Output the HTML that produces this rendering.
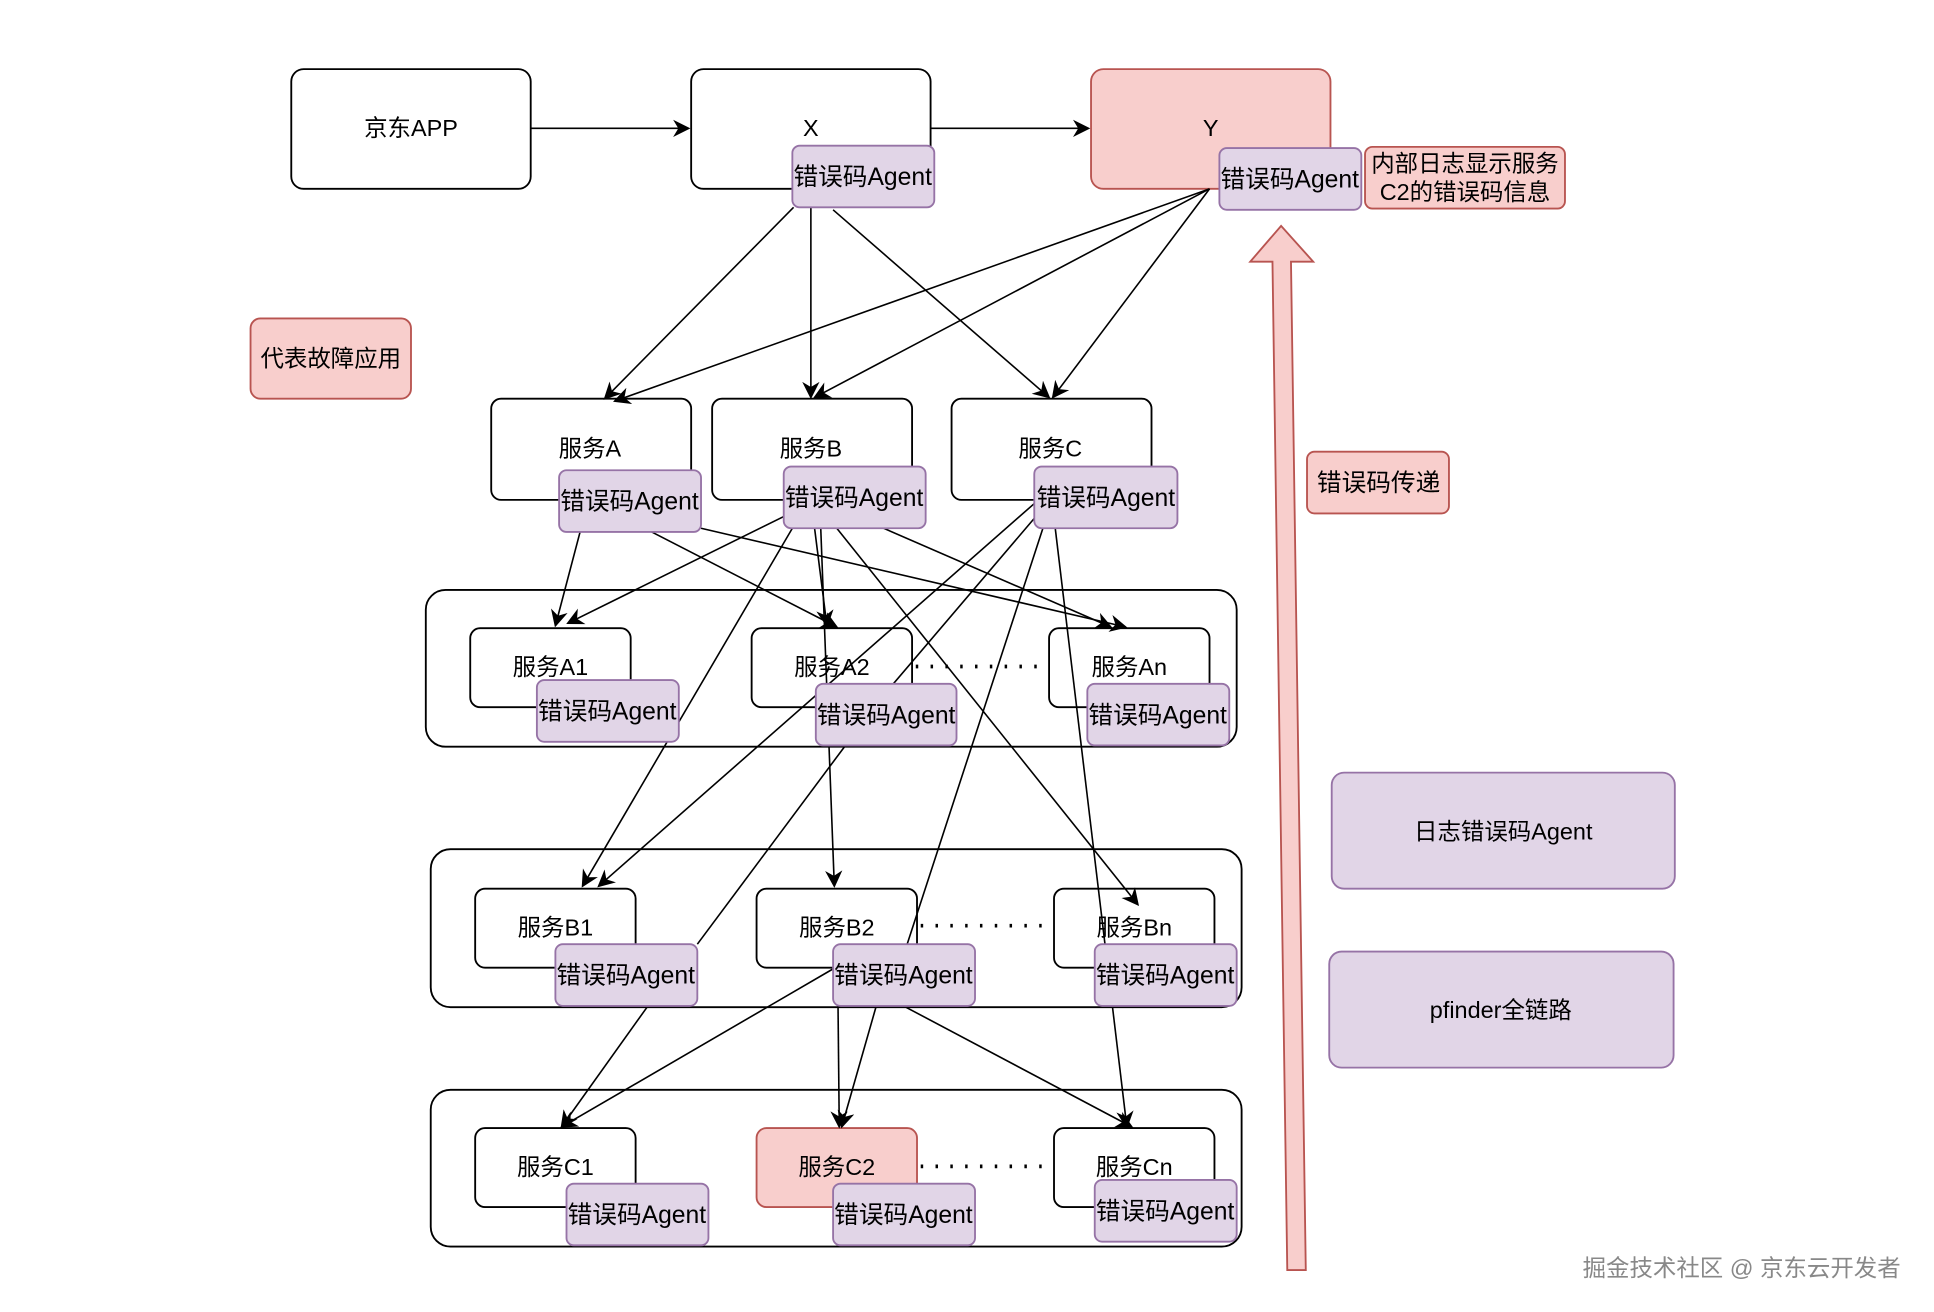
<!DOCTYPE html>
<html><head><meta charset="utf-8"><style>
html,body{margin:0;padding:0;background:#fff;}
svg{display:block;}
text{font-family:"Liberation Sans","Noto Sans CJK SC",sans-serif;fill:#000;}
.ag{font-size:20px;}
</style></head><body>
<svg width="1934" height="1312" viewBox="0 0 1567 1063" preserveAspectRatio="none" xmlns="http://www.w3.org/2000/svg">
<defs>
<marker id="ar2" viewBox="0 0 10 10" refX="9" refY="5" markerWidth="14" markerHeight="14" orient="auto" markerUnits="userSpaceOnUse">
<path d="M0,0 L10,5 L0,10 L3,5 z" fill="#000"/></marker>
</defs>
<g fill="none" stroke="#000" stroke-width="1.5">
<rect x="345" y="478" width="657" height="127" rx="16"/>
<rect x="349" y="688" width="657" height="128" rx="16"/>
<rect x="349" y="883" width="657" height="127" rx="16"/>
<rect x="236" y="56" width="194" height="97" rx="10" fill="#fff"/>
<rect x="560" y="56" width="194" height="97" rx="10" fill="#fff"/>
<rect x="884" y="56" width="194" height="97" rx="10" fill="#f8cecc" stroke="#b85450"/>
<rect x="398" y="323" width="162" height="82" rx="8"/>
<rect x="577" y="323" width="162" height="82" rx="8"/>
<rect x="771" y="323" width="162" height="82" rx="8"/>
<rect x="381" y="509" width="130" height="64" rx="8"/>
<rect x="609" y="509" width="130" height="64" rx="8"/>
<rect x="850" y="509" width="130" height="64" rx="8"/>
<rect x="385" y="720" width="130" height="64" rx="8"/>
<rect x="613" y="720" width="130" height="64" rx="8"/>
<rect x="854" y="720" width="130" height="64" rx="8"/>
<rect x="385" y="914" width="130" height="64" rx="8"/>
<rect x="613" y="914" width="130" height="64" rx="8" fill="#f8cecc" stroke="#b85450"/>
<rect x="854" y="914" width="130" height="64" rx="8"/>
</g>
<g stroke="#000" stroke-width="3" stroke-dasharray="2,10" fill="none">
<line x1="742" y1="540" x2="848" y2="540"/>
<line x1="746" y1="750" x2="852" y2="750"/>
<line x1="746" y1="945" x2="852" y2="945"/>
</g>
<g stroke="#000" stroke-width="1.3" fill="none" marker-end="url(#ar2)">
<line x1="430" y1="104" x2="558" y2="104"/>
<line x1="754" y1="104" x2="882" y2="104"/>
<line x1="643" y1="168" x2="490" y2="323"/>
<line x1="657" y1="168" x2="657" y2="322"/>
<line x1="675" y1="170" x2="850" y2="322"/>
<line x1="980" y1="153" x2="498" y2="325"/>
<line x1="980" y1="153" x2="660" y2="322"/>
<line x1="980" y1="153" x2="853" y2="322"/>
<line x1="470" y1="431" x2="450" y2="507"/>
<line x1="528" y1="431" x2="678" y2="508"/>
<line x1="568" y1="428" x2="912" y2="508"/>
<line x1="636" y1="418" x2="460" y2="505"/>
<line x1="660" y1="428" x2="670" y2="507"/>
<line x1="642" y1="428" x2="472" y2="718"/>
<line x1="678" y1="428" x2="922" y2="733"/>
<line x1="716" y1="428" x2="900" y2="508"/>
<line x1="665" y1="428" x2="676" y2="718"/>
<line x1="838" y1="408" x2="485" y2="718"/>
<line x1="855" y1="428" x2="913" y2="913"/>
<line x1="525" y1="815" x2="455" y2="913"/>
<line x1="675" y1="785" x2="455" y2="913"/>
<line x1="679" y1="815" x2="680" y2="913"/>
<line x1="710" y1="815" x2="682" y2="913"/>
<line x1="732" y1="815" x2="917" y2="913"/>
</g>
<g stroke="#000" stroke-width="1.3" fill="none">
<line x1="838" y1="420" x2="700" y2="582"/>
<line x1="845" y1="428" x2="735" y2="765"/>
<line x1="685" y1="604" x2="565" y2="765"/>
</g>
<g fill="#e1d5e7" stroke="#9673a6" stroke-width="1.5">
<rect x="642" y="118" width="115" height="50" rx="6"/>
<rect x="988" y="120" width="115" height="50" rx="6"/>
<rect x="453" y="381" width="115" height="50" rx="6"/>
<rect x="635" y="378" width="115" height="50" rx="6"/>
<rect x="838" y="378" width="116" height="50" rx="6"/>
<rect x="435" y="551" width="115" height="50" rx="6"/>
<rect x="661" y="554" width="114" height="50" rx="6"/>
<rect x="881" y="554" width="115" height="50" rx="6"/>
<rect x="450" y="765" width="115" height="50" rx="6"/>
<rect x="675" y="765" width="115" height="50" rx="6"/>
<rect x="887" y="765" width="115" height="50" rx="6"/>
<rect x="459" y="959" width="115" height="50" rx="6"/>
<rect x="675" y="959" width="115" height="50" rx="6"/>
<rect x="887" y="956" width="115" height="50" rx="6"/>
<rect x="1079" y="626" width="278" height="94" rx="10"/>
<rect x="1077" y="771" width="279" height="94" rx="10"/>
</g>
<g fill="#f8cecc" stroke="#b85450" stroke-width="1.5">
<rect x="1106" y="119" width="162" height="50" rx="6"/>
<rect x="203" y="258" width="130" height="65" rx="8"/>
<rect x="1059" y="366" width="115" height="50" rx="6"/>
<path d="M1043,1029 L1058,1029 L1046,212 L1064,212 L1038,183 L1013,212 L1031,212 Z"/>
</g>
<g font-size="19" text-anchor="middle">
<text x="333" y="110">京东APP</text>
<text x="657" y="110">X</text>
<text x="981" y="110">Y</text>
<text x="478" y="370">服务A</text>
<text x="657" y="370">服务B</text>
<text x="851" y="370">服务C</text>
<text x="446" y="547">服务A1</text>
<text x="674" y="547">服务A2</text>
<text x="915" y="547">服务An</text>
<text x="450" y="758">服务B1</text>
<text x="678" y="758">服务B2</text>
<text x="919" y="758">服务Bn</text>
<text x="450" y="952">服务C1</text>
<text x="678" y="952">服务C2</text>
<text x="919" y="952">服务Cn</text>
<text x="268" y="297">代表故障应用</text>
<text x="1117" y="398" class="ag">错误码传递</text>
<text x="1218" y="680">日志错误码Agent</text>
<text x="1216" y="825">pfinder全链路</text>
<text x="1187" y="139">内部日志显示服务</text>
<text x="1187" y="162">C2的错误码信息</text>
<g class="ag">
<text x="699" y="150">错误码Agent</text>
<text x="1045" y="152">错误码Agent</text>
<text x="510" y="413">错误码Agent</text>
<text x="692" y="410">错误码Agent</text>
<text x="896" y="410">错误码Agent</text>
<text x="492" y="583">错误码Agent</text>
<text x="718" y="586">错误码Agent</text>
<text x="938" y="586">错误码Agent</text>
<text x="507" y="797">错误码Agent</text>
<text x="732" y="797">错误码Agent</text>
<text x="944" y="797">错误码Agent</text>
<text x="516" y="991">错误码Agent</text>
<text x="732" y="991">错误码Agent</text>
<text x="944" y="988">错误码Agent</text>
</g>
</g>
<text x="1540" y="1034" font-size="19" text-anchor="end" style="fill:#888">掘金技术社区 @ 京东云开发者</text>
</svg>
</body></html>
